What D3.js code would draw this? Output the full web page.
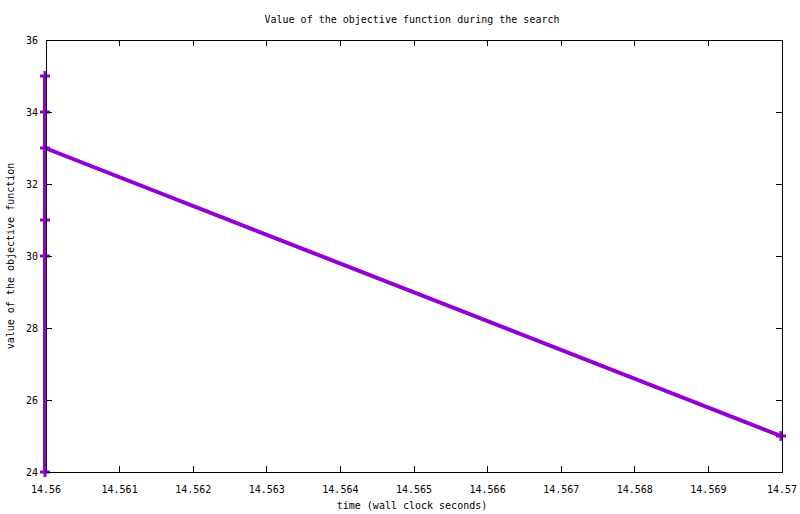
<!DOCTYPE html>
<html><head><meta charset="utf-8">
<script src="https://cdn.jsdelivr.net/npm/d3@7"></script>
<style>body{margin:0;background:#fff}svg{display:block}text{font-family:"DejaVu Sans Mono",monospace;font-size:10px;fill:#000}</style>
</head><body><svg id="c" width="800" height="514"></svg>
<script>
const times = [14.56, 14.56, 14.56, 14.56, 14.56, 14.56, 14.57];
const values = [30, 35, 34, 31, 24, 33, 25];
const xTicks = [14.56,14.561,14.562,14.563,14.564,14.565,14.566,14.567,14.568,14.569,14.57];
const yTicks = [24,26,28,30,32,34,36];
const title = "Value of the objective function during the search";
const xLabel = "time (wall clock seconds)";
const yLabel = "value of the objective function";

const svg = d3.select("#c");
const L=46,R=782,T=40,B=472;
const x = d3.scaleLinear().domain([14.56,14.57]).range([L,R]);
const y = d3.scaleLinear().domain([24,36]).range([B,T]);
const color="#9400d3";

const data = times.map((t,i)=>({t,v:values[i]}));
svg.append("path").datum(data)
  .attr("d", d3.line().x(d=>x(d.t)-1).y(d=>y(d.v)))
  .attr("fill","none").attr("stroke",color).attr("stroke-width",4).attr("stroke-linejoin","round");
svg.selectAll(".pt").data(data).enter().append("path")
  .attr("d", d=>{const cx=x(d.t)-1, cy=y(d.v); return `M${cx-5},${cy}H${cx+5}M${cx},${cy-5}V${cy+5}`;})
  .attr("stroke",color).attr("stroke-width",3).attr("fill","none");

// border & ticks
const g = svg.append("g").attr("stroke","#000").attr("stroke-width",1).attr("shape-rendering","crispEdges");
g.append("rect").attr("x",L).attr("y",T).attr("width",R-L).attr("height",B-T).attr("fill","none");
xTicks.forEach(v=>{
  g.append("line").attr("x1",x(v)).attr("x2",x(v)).attr("y1",B).attr("y2",B-6);
  g.append("line").attr("x1",x(v)).attr("x2",x(v)).attr("y1",T).attr("y2",T+6);
});
yTicks.forEach(v=>{
  g.append("line").attr("x1",L).attr("x2",L+6).attr("y1",y(v)).attr("y2",y(v));
  g.append("line").attr("x1",R).attr("x2",R-6).attr("y1",y(v)).attr("y2",y(v));
});
svg.selectAll(".xt").data(xTicks).enter().append("text")
  .attr("x",d=>x(d)).attr("y",493).attr("text-anchor","middle").text(d=>d3.format("")(+d.toFixed(3)));
svg.selectAll(".yt").data(yTicks).enter().append("text")
  .attr("x",38).attr("y",d=>y(d)+4).attr("text-anchor","end").text(d=>d);
svg.append("text").attr("x",412).attr("y",23).attr("text-anchor","middle").text(title);
svg.append("text").attr("x",412).attr("y",509).attr("text-anchor","middle").text(xLabel);
svg.append("text").attr("transform","translate(14,256) rotate(-90)").attr("text-anchor","middle").text(yLabel);
</script></body></html>
